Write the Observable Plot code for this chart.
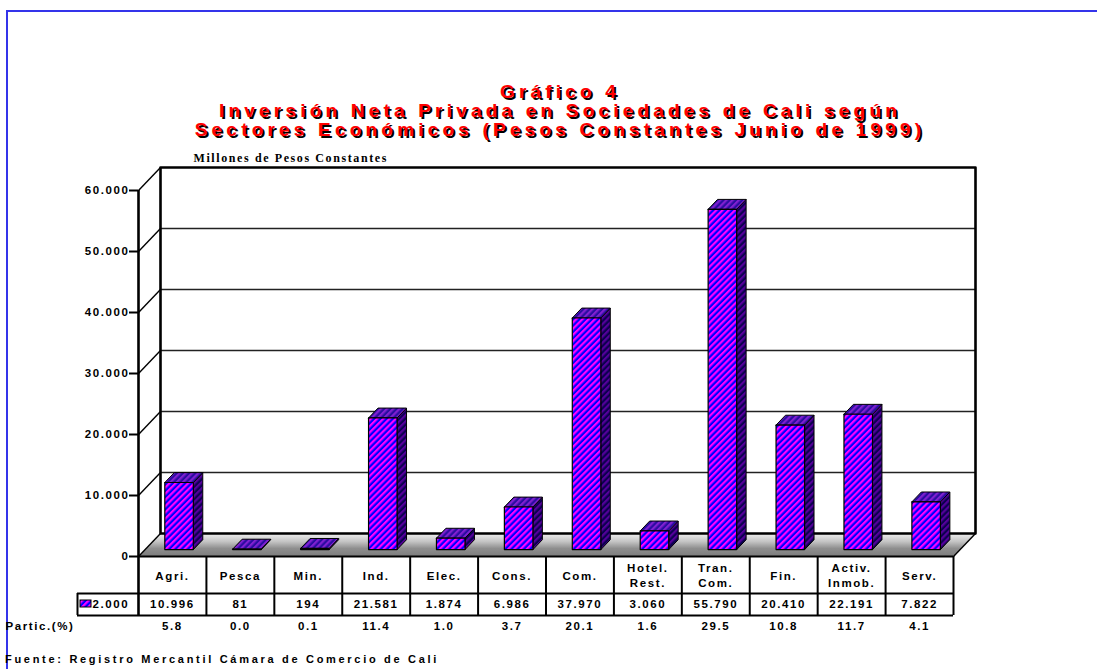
<!DOCTYPE html>
<html>
<head>
<meta charset="utf-8">
<script src="https://cdn.jsdelivr.net/npm/d3@7"></script>
<script src="https://cdn.jsdelivr.net/npm/@observablehq/plot@0.6"></script>
<style>
  html, body { margin:0; padding:0; background:#fff; width:1097px; height:669px; overflow:hidden; }
  #frame { position:absolute; left:6px; top:10px; width:1091px; height:659px; border-top:2px solid #3434ea; border-left:2px solid #3434ea; box-sizing:border-box; }
  #title { position:absolute; left:0; width:1120px; top:82px; text-align:center;
           font-family:'Liberation Sans', Arial, sans-serif; font-weight:bold; font-size:19px; line-height:19px;
           color:#ff0000; text-shadow:2px 2px 0 #000; letter-spacing:4.2px; }
  #chart { position:absolute; left:0; top:140px; }
  #caption { position:absolute; left:5px; top:653px; font-family:'Liberation Sans', Arial, sans-serif;
             font-weight:bold; font-size:11px; letter-spacing:2.7px; color:#000; white-space:nowrap; }
  #chart svg text { letter-spacing:1.6px; }
  #chart svg g[aria-label="unit-label"] text { letter-spacing:2px; }
</style>
</head>
<body>
<svg width="0" height="0" style="position:absolute">
  <defs>
    <pattern id="pFront" width="4.4" height="4.4" patternUnits="userSpaceOnUse" patternTransform="rotate(45)">
      <rect width="4.4" height="4.4" fill="#0000ff"/><rect width="2.2" height="4.4" fill="#ff00ff"/>
    </pattern>
    <pattern id="pSide" width="4.4" height="4.4" patternUnits="userSpaceOnUse" patternTransform="rotate(45)">
      <rect width="4.4" height="4.4" fill="#0c0050"/><rect width="2.2" height="4.4" fill="#55009a"/>
    </pattern>
    <pattern id="pTop" width="4.4" height="4.4" patternUnits="userSpaceOnUse" patternTransform="rotate(45)">
      <rect width="4.4" height="4.4" fill="#2a0ca0"/><rect width="2.2" height="4.4" fill="#8020d0"/>
    </pattern>
    <linearGradient id="floorGrad" x1="0" y1="0" x2="0" y2="1">
      <stop offset="0" stop-color="#f0f0f0"/>
      <stop offset="0.35" stop-color="#c4c4c4"/>
      <stop offset="0.65" stop-color="#8e8e8e"/>
      <stop offset="1" stop-color="#7c7c7c"/>
    </linearGradient>
  </defs>
</svg>
<div id="frame"></div>
<div id="title">Gráfico 4<br>Inversión Neta Privada en Sociedades de Cali según<br>Sectores Económicos (Pesos Constantes Junio de 1999)</div>
<div id="chart"></div>
<div id="caption">Fuente: Registro Mercantil Cámara de Comercio de Cali</div>
<script>
// ---- data ----
const categories = ["Agri.", "Pesca", "Min.", "Ind.", "Elec.", "Cons.", "Com.", "Hotel.\nRest.", "Tran.\nCom.", "Fin.", "Activ.\nInmob.", "Serv."];
const values2000 = [10996, 81, 194, 21581, 1874, 6986, 37970, 3060, 55790, 20410, 22191, 7822];
const partic = [5.8, 0.0, 0.1, 11.4, 1.0, 3.7, 20.1, 1.6, 29.5, 10.8, 11.7, 4.1];
const yTicks = [0, 10000, 20000, 30000, 40000, 50000, 60000];
const seriesName = "2.000";
const particLabel = "Partic.(%)";
const unitLabel = "Millones de Pesos Constantes";

// ---- layout ----
const W = 1097, H = 510;
const mL = 138, mR = 144, mT = 50, mB = 94;
const n = categories.length;
const yMax = 60000;
const pxPerCol = (W - mL - mR) / n;
const pxPerUnit = (H - mT - mB) / yMax;
const DX = 22 / pxPerCol, DY = 23 / pxPerUnit;       // 3D depth offset
const px2v = p => -p / pxPerUnit;                     // px below floor front -> value
const px2x = p => p / pxPerCol;                       // px from left axis -> column units
const P = (x, v, d) => ({x: x + d * DX, y: v + d * DY});
const poly = (id, pts) => [...pts, pts[0]].map(p => ({...p, id}));

const fmt = d3.formatLocale({decimal: ",", thousands: ".", grouping: [3], currency: ["", ""]}).format(",");

const rowMid = px2v(37), rowBot = px2v(59), particY = px2v(70);
const legX = px2x(-61);

// bars geometry (derived from values)
const bx0 = 0.29, bx1 = 0.71, d0 = 0.3, d1 = 0.73;
const fronts = [], sides = [], tops = [];
values2000.forEach((v, i) => {
  const a = i + bx0, b = i + bx1;
  fronts.push(...poly("f" + i, [P(a, 0, d0), P(b, 0, d0), P(b, v, d0), P(a, v, d0)]));
  sides.push(...poly("s" + i, [P(b, 0, d0), P(b, 0, d1), P(b, v, d1), P(b, v, d0)]));
  tops.push(...poly("t" + i, [P(a, v, d0), P(b, v, d0), P(b, v, d1), P(a, v, d1)]));
});

const floor = poly("floor", [P(0, 0, 0), P(n, 0, 0), P(n, 0, 1), P(0, 0, 1)]);
const backWall = poly("back", [P(0, 0, 1), P(n, 0, 1), P(n, yMax, 1), P(0, yMax, 1)]);

const chart = Plot.plot({
  width: W, height: H,
  marginLeft: mL, marginRight: mR, marginTop: mT, marginBottom: mB,
  x: {domain: [0, n], axis: null},
  y: {domain: [0, yMax], axis: null},
  style: {fontFamily: "'Liberation Sans', Arial, sans-serif", fontSize: "11px", fontWeight: "bold", color: "#000", background: "transparent", overflow: "visible"},
  marks: [
    Plot.line(floor, {x: "x", y: "y", z: "id", fill: "url(#floorGrad)", stroke: "none"}),
    Plot.link(yTicks, {x1: 0, y1: d => d, x2: DX, y2: d => d + DY, stroke: "#000", strokeWidth: 1.4}),
    Plot.link(yTicks.filter(d => d > 0 && d < yMax), {x1: DX, x2: n + DX, y1: d => d + DY, y2: d => d + DY, stroke: "#222", strokeWidth: 1.4}),
    Plot.line(backWall, {x: "x", y: "y", z: "id", fill: "none", stroke: "#000", strokeWidth: 2.6}),
    Plot.link([0], {x1: n, y1: 0, x2: n + DX, y2: DY, stroke: "#000", strokeWidth: 1.4}),
    Plot.line(sides, {x: "x", y: "y", z: "id", fill: "url(#pSide)", stroke: "#000", strokeWidth: 1, strokeLinejoin: "miter"}),
    Plot.line(tops, {x: "x", y: "y", z: "id", fill: "url(#pTop)", stroke: "#000", strokeWidth: 1, strokeLinejoin: "miter"}),
    Plot.line(fronts, {x: "x", y: "y", z: "id", fill: "url(#pFront)", stroke: "#000", strokeWidth: 1.2, strokeLinejoin: "miter"}),
    // front axis
    Plot.ruleX([0], {y1: rowBot, y2: yMax, stroke: "#000", strokeWidth: 2.6}),
    Plot.axisY({ticks: yTicks, tickFormat: fmt, tickSize: 9, tickPadding: 0, strokeWidth: 2, fontSize: 11.5, fontWeight: "bold", label: null, anchor: "left"}),
    // table
    Plot.ruleY([{y: 0, x1: 0, x2: n}, {y: rowMid, x1: legX, x2: n}, {y: rowBot, x1: legX, x2: n}], {y: "y", x1: "x1", x2: "x2", stroke: "#000", strokeWidth: 2}),
    Plot.ruleX(d3.range(1, n + 1), {y1: rowBot, y2: 0, stroke: "#000", strokeWidth: 2}),
    Plot.ruleX([legX], {y1: rowBot, y2: rowMid, stroke: "#000", strokeWidth: 2}),
    Plot.text(categories, {x: (d, i) => i + 0.5, y: rowMid / 2, text: d => d, lineHeight: 1.25, fontSize: 11.5, fontWeight: "bold"}),
    Plot.text(values2000, {x: (d, i) => i + 0.5, y: (rowMid + rowBot) / 2, text: d => fmt(d), fontSize: 11.5, fontWeight: "bold"}),
    Plot.text(partic, {x: (d, i) => i + 0.5, y: particY, text: d => d.toFixed(1), fontSize: 11.5, fontWeight: "bold"}),
    Plot.rect([seriesName], {x1: px2x(-58), x2: px2x(-47), y1: px2v(44), y2: px2v(51), fill: "url(#pFront)", stroke: "#000", strokeWidth: 1}),
    Plot.text([seriesName], {x: px2x(-46), y: (rowMid + rowBot) / 2, text: d => d, textAnchor: "start", fontSize: 11.5, fontWeight: "bold"}),
    Plot.text([particLabel], {x: px2x(-133), y: particY, text: d => d, textAnchor: "start", fontSize: 11.5, fontWeight: "bold"}),
    Plot.text([unitLabel], {frameAnchor: "top-left", dx: 55, dy: -37, text: d => d, textAnchor: "start", fontFamily: "'Liberation Serif', 'Times New Roman', serif", fontSize: 12, fontWeight: "bold", ariaLabel: "unit-label"})
  ]
});
document.getElementById("chart").appendChild(chart);
</script>
</body>
</html>
